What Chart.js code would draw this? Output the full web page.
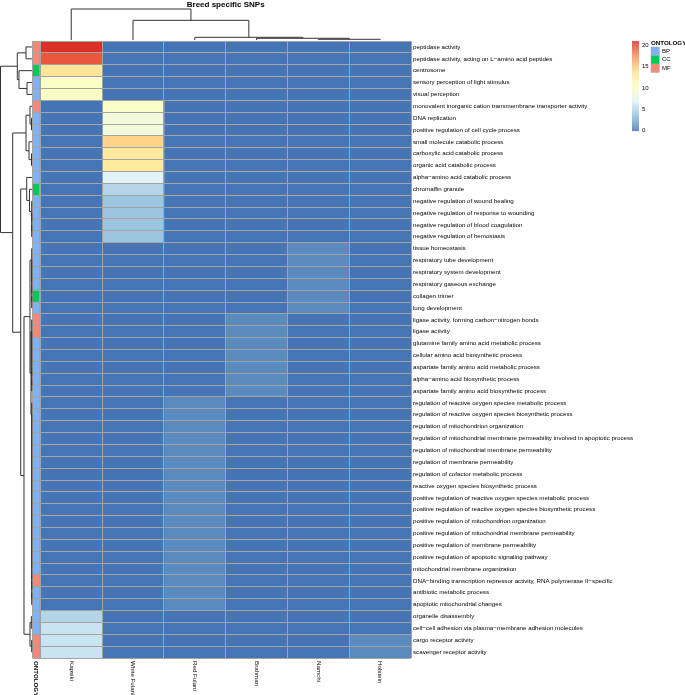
<!DOCTYPE html>
<html>
<head>
<meta charset="utf-8">
<script src="https://cdn.jsdelivr.net/npm/chart.js@4.4.0/dist/chart.umd.min.js"></script>
<style>
  body { margin: 0; background: #fff; }
</style>
</head>
<body>
<canvas id="heat" width="685" height="695"></canvas>
<script>
const breeds = ['Kapsiki', 'White Fulani', 'Red Fulani', 'Brahman', 'Namchi', 'Holstein'];

const terms = [
  'peptidase activity',
  'peptidase activity, acting on L−amino acid peptides',
  'centrosome',
  'sensory perception of light stimulus',
  'visual perception',
  'monovalent inorganic cation transmembrane transporter activity',
  'DNA replication',
  'positive regulation of cell cycle process',
  'small molecule catabolic process',
  'carboxylic acid catabolic process',
  'organic acid catabolic process',
  'alpha−amino acid catabolic process',
  'chromaffin granule',
  'negative regulation of wound healing',
  'negative regulation of response to wounding',
  'negative regulation of blood coagulation',
  'negative regulation of hemostasis',
  'tissue homeostasis',
  'respiratory tube development',
  'respiratory system development',
  'respiratory gaseous exchange',
  'collagen trimer',
  'lung development',
  'ligase activity, forming carbon−nitrogen bonds',
  'ligase activity',
  'glutamine family amino acid metabolic process',
  'cellular amino acid biosynthetic process',
  'aspartate family amino acid metabolic process',
  'alpha−amino acid biosynthetic process',
  'aspartate family amino acid biosynthetic process',
  'regulation of reactive oxygen species metabolic process',
  'regulation of reactive oxygen species biosynthetic process',
  'regulation of mitochondrion organization',
  'regulation of mitochondrial membrane permeability involved in apoptotic process',
  'regulation of mitochondrial membrane permeability',
  'regulation of membrane permeability',
  'regulation of cofactor metabolic process',
  'reactive oxygen species biosynthetic process',
  'positive regulation of reactive oxygen species metabolic process',
  'positive regulation of reactive oxygen species biosynthetic process',
  'positive regulation of mitochondrion organization',
  'positive regulation of mitochondrial membrane permeability',
  'positive regulation of membrane permeability',
  'positive regulation of apoptotic signaling pathway',
  'mitochondrial membrane organization',
  'DNA−binding transcription repressor activity, RNA polymerase II−specific',
  'antibiotic metabolic process',
  'apoptotic mitochondrial changes',
  'organelle disassembly',
  'cell−cell adhesion via plasma−membrane adhesion molecules',
  'cargo receptor activity',
  'scavenger receptor activity'
];

const ontology = [
  'MF', 'MF', 'CC', 'BP', 'BP', 'MF', 'BP', 'BP', 'BP', 'BP',
  'BP', 'BP', 'CC', 'BP', 'BP', 'BP', 'BP', 'BP', 'BP', 'BP',
  'BP', 'CC', 'BP', 'MF', 'MF', 'BP', 'BP', 'BP', 'BP', 'BP',
  'BP', 'BP', 'BP', 'BP', 'BP', 'BP', 'BP', 'BP', 'BP', 'BP',
  'BP', 'BP', 'BP', 'BP', 'BP', 'MF', 'BP', 'BP', 'BP', 'BP',
  'MF', 'MF'
];

// cell values, one array per breed (rows in the order of terms)
const kapsiki = [
  21, 19.5, 13.4, 10, 10, 0, 0, 0, 0, 0,
  0, 0, 0, 0, 0, 0, 0, 0, 0, 0,
  0, 0, 0, 0, 0, 0, 0, 0, 0, 0,
  0, 0, 0, 0, 0, 0, 0, 0, 0, 0,
  0, 0, 0, 0, 0, 0, 0, 0, 5, 6,
  6, 6
];
const whiteFulani = [
  0, 0, 0, 0, 0, 10, 9, 9, 14.5, 13,
  13, 7, 5, 4, 4, 4, 4, 0, 0, 0,
  0, 0, 0, 0, 0, 0, 0, 0, 0, 0,
  0, 0, 0, 0, 0, 0, 0, 0, 0, 0,
  0, 0, 0, 0, 0, 0, 0, 0, 0, 0,
  0, 0
];
const redFulani = [
  0, 0, 0, 0, 0, 0, 0, 0, 0, 0,
  0, 0, 0, 0, 0, 0, 0, 0, 0, 0,
  0, 0, 0, 0, 0, 0, 0, 0, 0, 0,
  1, 1, 1, 1, 1, 1, 1, 1, 1, 1,
  1, 1, 1, 1, 1, 1, 1, 1, 0, 0,
  0, 0
];
const brahman = [
  0, 0, 0, 0, 0, 0, 0, 0, 0, 0,
  0, 0, 0, 0, 0, 0, 0, 0, 0, 0,
  0, 0, 0, 1, 1, 1, 1, 1, 1, 1,
  0, 0, 0, 0, 0, 0, 0, 0, 0, 0,
  0, 0, 0, 0, 0, 0, 0, 0, 0, 0,
  0, 0
];
const namchi = [
  0, 0, 0, 0, 0, 0, 0, 0, 0, 0,
  0, 0, 0, 0, 0, 0, 0, 1, 1, 1,
  1, 1, 1, 0, 0, 0, 0, 0, 0, 0,
  0, 0, 0, 0, 0, 0, 0, 0, 0, 0,
  0, 0, 0, 0, 0, 0, 0, 0, 0, 0,
  0, 0
];
const holstein = [
  0, 0, 0, 0, 0, 0, 0, 0, 0, 0,
  0, 0, 0, 0, 0, 0, 0, 0, 0, 0,
  0, 0, 0, 0, 0, 0, 0, 0, 0, 0,
  0, 0, 0, 0, 0, 0, 0, 0, 0, 0,
  0, 0, 0, 0, 0, 0, 0, 0, 0, 0,
  1, 1
];

const legendTicks = [0, 5, 10, 15, 20];
const scaleMax = 21;

// dendrograms: [height, left, right], leaves are column / row indexes
function chain(a, b) { return a === b ? a : [1, a, chain(a + 1, b)]; }
const colTree = [100, 0, [63.5, 1, [8.7, 2, [5.5, 3, [2.3, 4, 5]]]]];
const rowTree = [100,
  [46.7, [19, 0, 1], [41.3, 2, [15.9, 3, 4]]],
  [61.3,
    [19, [6.3, 5, [1.6, 6, 7]], [9.5, 8, [1.6, 9, 10]]],
    [35.9,
      [16.8, 11, [8, 12, chain(13, 16)]],
      [25.4,
        [6.3, chain(17, 22), [3.2, chain(23, 29), chain(30, 47)]],
        [6.3, [2, 48, 49], [1, 50, 51]]]]]];

const palette = ['#4575B4', '#91BFDB', '#E0F3F8', '#FFFFBF', '#FEE090', '#FC8D59', '#D73027'];
const ontoColours = { BP: '#80b1f3', CC: '#00c957', MF: '#f8877a' };
const FONT = "'Liberation Sans', Arial, sans-serif";
const annotSpan = [-0.127, -0.02];

function hexRgb(h) { return [1, 3, 5].map(i => parseInt(h.slice(i, i + 2), 16)); }
function heatColour(v) {
  const t = Math.max(0, Math.min(1, v / scaleMax)) * (palette.length - 1);
  const i = Math.min(palette.length - 2, Math.floor(t));
  const f = t - i;
  const a = hexRgb(palette[i]), b = hexRgb(palette[i + 1]);
  const c = a.map((x, k) => Math.round(x + (b[k] - x) * f));
  return 'rgb(' + c.join(',') + ')';
}

function walk(node, segs) {
  if (typeof node === 'number') return { p: node, h: 0 };
  const a = walk(node[1], segs), b = walk(node[2], segs);
  const h = node[0];
  segs.push([a.p, a.h, a.p, h], [b.p, b.h, b.p, h], [a.p, h, b.p, h]);
  return { p: (a.p + b.p) / 2, h: h };
}

const extras = {
  id: 'extras',
  afterDraw(chart) {
    const { ctx, chartArea, scales: { x, y } } = chart;
    ctx.save();
    ctx.strokeStyle = '#333';
    ctx.lineWidth = 1;

    // column dendrogram
    let segs = [];
    walk(colTree, segs);
    const topLeaf = chartArea.top - 1;
    ctx.beginPath();
    segs.forEach(s => {
      ctx.moveTo(x.getPixelForValue(s[0] + 0.5), topLeaf - s[1] * 0.31);
      ctx.lineTo(x.getPixelForValue(s[2] + 0.5), topLeaf - s[3] * 0.31);
    });
    ctx.stroke();

    // row dendrogram
    segs = [];
    walk(rowTree, segs);
    const leftLeaf = chartArea.left - 0.5;
    ctx.beginPath();
    segs.forEach(s => {
      ctx.moveTo(leftLeaf - s[1] * 0.315, y.getPixelForValue(s[0]));
      ctx.lineTo(leftLeaf - s[3] * 0.315, y.getPixelForValue(s[2]));
    });
    ctx.stroke();

    // title
    ctx.fillStyle = '#000';
    ctx.font = 'bold 8px ' + FONT;
    ctx.textAlign = 'center';
    ctx.textBaseline = 'alphabetic';
    ctx.fillText('Breed specific SNPs', (x.getPixelForValue(0) + x.getPixelForValue(6)) / 2, 6.5);

    // column labels, rotated
    ctx.textAlign = 'left';
    ctx.textBaseline = 'middle';
    const rot = (label, px, bold) => {
      ctx.save();
      ctx.font = (bold ? 'bold ' : '') + '6.2px ' + FONT;
      ctx.translate(px, chartArea.bottom + 3);
      ctx.rotate(Math.PI / 2);
      ctx.fillText(label, 0, 0);
      ctx.restore();
    };
    breeds.forEach((b, c) => rot(b, x.getPixelForValue(c + 0.5), false));
    rot('ONTOLOGY', x.getPixelForValue((annotSpan[0] + annotSpan[1]) / 2), true);

    // colour bar legend
    const barL = 632, barW = 7, barTop = 41, barBot = 130.7;
    const valPix = v => barBot - v / scaleMax * (barBot - barTop);
    for (let py = barTop; py < barBot; py += 0.5) {
      ctx.fillStyle = heatColour((barBot - py) / (barBot - barTop) * scaleMax);
      ctx.fillRect(barL, py, barW, 0.6);
    }
    ctx.fillStyle = '#000';
    ctx.font = '6px ' + FONT;
    legendTicks.forEach(t => ctx.fillText(String(t), barL + 10, valPix(t)));

    // ontology legend
    ctx.font = 'bold 6.2px ' + FONT;
    ctx.fillText('ONTOLOGY', 651, 43);
    ctx.font = '6px ' + FONT;
    ['BP', 'CC', 'MF'].forEach((k, i) => {
      const sy = 47 + i * 8.5;
      ctx.fillStyle = ontoColours[k];
      ctx.fillRect(651, sy, 8.3, 8.5);
      ctx.strokeStyle = '#aaa';
      ctx.lineWidth = 0.5;
      ctx.strokeRect(651, sy, 8.3, 8.5);
      ctx.fillStyle = '#000';
      ctx.fillText(k, 662, sy + 4.3);
    });
    ctx.restore();
  }
};

const columns = [kapsiki, whiteFulani, redFulani, brahman, namchi, holstein];
const datasets = columns.map((vals, c) => ({
  label: breeds[c],
  data: vals.map(() => [c, c + 1]),
  backgroundColor: vals.map(heatColour),
  borderWidth: 0,
  barPercentage: 1,
  categoryPercentage: 1,
  grouped: false
}));
datasets.push({
  label: 'ONTOLOGY',
  data: ontology.map(() => annotSpan),
  backgroundColor: ontology.map(o => ontoColours[o]),
  borderWidth: 0,
  barPercentage: 1,
  categoryPercentage: 1,
  grouped: false
});

const gridX = [annotSpan[0], annotSpan[1], 0, 1, 2, 3, 4, 5, 6];

new Chart(document.getElementById('heat'), {
  type: 'bar',
  data: { labels: terms, datasets: datasets },
  options: {
    responsive: false,
    animation: false,
    indexAxis: 'y',
    layout: { padding: { top: 41, left: 32.5, right: 0, bottom: 0 } },
    plugins: { legend: { display: false }, tooltip: { enabled: false } },
    scales: {
      x: {
        type: 'linear', min: annotSpan[0], max: 6, position: 'bottom',
        afterBuildTicks: s => { s.ticks = gridX.map(v => ({ value: v })); },
        afterFit: s => { s.height = 37; },
        ticks: { display: false },
        grid: { color: '#a3a3a3', lineWidth: 1, drawTicks: false, z: 1 },
        border: { display: false }
      },
      y: {
        type: 'category', position: 'right', offset: true,
        afterFit: s => { s.width = 274; },
        ticks: { autoSkip: false, padding: 2, color: '#000', font: { family: FONT, size: 6.2 } },
        grid: { offset: true, color: '#a3a3a3', lineWidth: 1, drawTicks: false, z: 1 },
        border: { display: false }
      }
    }
  },
  plugins: [extras]
});
</script>
</body>
</html>
